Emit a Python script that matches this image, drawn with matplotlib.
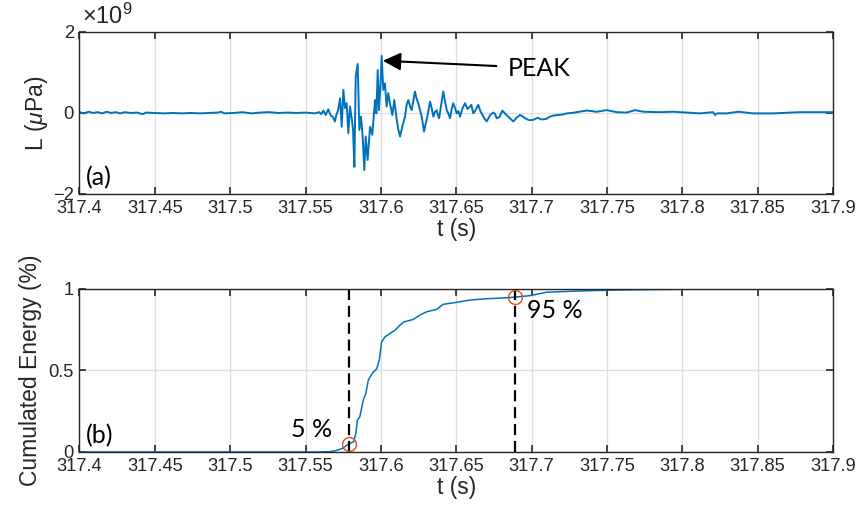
import numpy as np
import matplotlib
matplotlib.use('Agg')
import matplotlib.pyplot as plt

# hydrophone trace around the event (amplitude in units of 1e9 uPa)
t_sig = [317.400, 317.403, 317.406, 317.409, 317.412, 317.415, 317.418, 317.421,
         317.424, 317.427, 317.430, 317.434, 317.438, 317.442, 317.444, 317.450,
         317.456, 317.462, 317.468, 317.474, 317.480, 317.486, 317.492, 317.494,
         317.496, 317.502, 317.508, 317.514, 317.520, 317.526, 317.532, 317.538,
         317.544, 317.550, 317.5563, 317.5590, 317.5605, 317.5618, 317.5634, 317.5642,
         317.5651, 317.5660, 317.5669, 317.5682, 317.5695, 317.5704, 317.5713, 317.5720,
         317.5729, 317.5740, 317.5751, 317.5762, 317.5773, 317.5784, 317.5795, 317.5806,
         317.5815, 317.5824, 317.5833, 317.5846, 317.5857, 317.5868, 317.5879, 317.5890,
         317.5899, 317.5912, 317.5928, 317.5943, 317.5952, 317.5961, 317.5970, 317.5979,
         317.5987, 317.5999, 317.6005, 317.6016, 317.6027, 317.6038, 317.6049, 317.6060,
         317.6076, 317.6089, 317.6105, 317.6115, 317.6127, 317.6142, 317.6160, 317.6171,
         317.6182, 317.6195, 317.6204, 317.6215, 317.6226, 317.6237, 317.6248, 317.6271,
         317.6286, 317.6295, 317.6304, 317.6315, 317.6326, 317.6337, 317.6348, 317.6358,
         317.6370, 317.6378, 317.6386, 317.6400, 317.6414, 317.6425, 317.6437, 317.6448,
         317.6459, 317.6470, 317.6480, 317.6492, 317.6503, 317.6514, 317.6525, 317.6540,
         317.6558, 317.6575, 317.6591, 317.6600, 317.6613, 317.6625, 317.6635, 317.6646,
         317.6660, 317.6680, 317.6690, 317.6702, 317.6725, 317.6746, 317.6757, 317.6768,
         317.6787, 317.6806, 317.6825, 317.6845, 317.6862, 317.6879, 317.6900, 317.6923,
         317.6940, 317.6956, 317.6985, 317.7011, 317.7040, 317.7067, 317.7095, 317.7122,
         317.7150, 317.7177, 317.7205, 317.7233, 317.7266, 317.7299, 317.7366, 317.7432,
         317.7498, 317.7565, 317.7631, 317.7686, 317.7741, 317.7852, 317.7940, 317.8029,
         317.8118, 317.8205, 317.8217, 317.8230, 317.8295, 317.8372, 317.8471, 317.8604,
         317.8781, 317.8958, 317.9000]
L_sig = [0.02, -0.01, 0.03, 0.00, 0.02, -0.01, 0.03, 0.00,
         0.02, -0.01, 0.02, 0.00, 0.01, -0.03, 0.01, 0.00,
         -0.01, 0.00, -0.01, 0.00, -0.01, 0.00, 0.01, 0.03,
         -0.01, 0.00, 0.02, -0.01, 0.01, 0.02, 0.00, 0.01,
         0.00, 0.01, -0.01, 0.02, -0.03, 0.06, -0.05, 0.03,
         0.09, 0.00, -0.07, -0.10, -0.21, -0.05, 0.03, 0.15,
         0.36, -0.34, 0.57, 0.12, 0.24, -0.50, 0.16, -0.13,
         -0.40, -1.33, 0.90, 1.21, -0.42, -0.09, -0.58, -1.41,
         -0.58, -1.16, -0.34, -0.54, -0.10, 0.32, -0.01, 1.06,
         0.07, 0.81, 1.41, 0.57, 0.73, 0.16, 0.49, 0.24,
         -0.05, 0.32, -0.17, -0.40, -0.58, -0.34, -0.09, 0.20,
         0.32, 0.15, 0.07, 0.30, 0.53, 0.35, 0.24, -0.09,
         -0.46, -0.30, -0.17, 0.05, 0.28, 0.12, -0.09, 0.02,
         0.07, -0.05, -0.13, 0.20, 0.53, 0.30, 0.07, -0.02,
         -0.13, 0.10, 0.24, 0.12, -0.01, 0.05, -0.09, 0.10,
         0.24, 0.10, 0.16, 0.20, -0.01, 0.05, 0.12, 0.20,
         0.05, -0.09, -0.15, -0.21, -0.05, 0.01, -0.02, -0.13,
         -0.10, 0.06, -0.02, -0.09, -0.15, -0.21, -0.12, -0.05,
         -0.08, -0.13, -0.18, -0.17, -0.12, -0.16, -0.15, -0.09,
         -0.06, -0.05, -0.04, -0.01, 0.00, 0.02, 0.06, 0.03,
         0.07, 0.02, 0.01, 0.07, 0.03, 0.02, 0.03, 0.01,
         -0.01, 0.02, -0.05, -0.01, -0.01, 0.03, -0.01, -0.01,
         0.02, 0.02, 0.02]

# normalised cumulative energy of the trace
t_cum = [317.400, 317.500, 317.560, 317.566, 317.570, 317.574, 317.5788, 317.582,
         317.5835, 317.5844, 317.586, 317.5883, 317.590, 317.5916, 317.5935, 317.595,
         317.5972, 317.5989, 317.6005, 317.6027, 317.606, 317.6094, 317.6127, 317.6153,
         317.6215, 317.6259, 317.6304, 317.637, 317.6414, 317.6503, 317.6591, 317.6702,
         317.6835, 317.689, 317.6989, 317.710, 317.7321, 317.760, 317.800, 317.850,
         317.900]
E_cum = [0.0, 0.0, 0.0, 0.002, 0.008, 0.02, 0.05, 0.063,
         0.12, 0.196, 0.215, 0.317, 0.358, 0.44, 0.47, 0.49,
         0.51, 0.563, 0.675, 0.706, 0.727, 0.747, 0.778, 0.798,
         0.813, 0.840, 0.860, 0.875, 0.906, 0.918, 0.932, 0.940,
         0.946, 0.95, 0.959, 0.980, 0.988, 0.994, 0.998, 1.0,
         1.0]

t5, e5 = 317.5788, 0.05
t95, e95 = 317.689, 0.95
t_peak, L_peak = 317.6005, 1.41

xticks = [317.4, 317.45, 317.5, 317.55, 317.6, 317.65, 317.7, 317.75, 317.8, 317.85, 317.9]
xticklabels = ['317.4', '317.45', '317.5', '317.55', '317.6', '317.65',
               '317.7', '317.75', '317.8', '317.85', '317.9']

blue = '#0072BD'
orange = '#D95319'
dark = '#262626'
plt.rcParams['font.family'] = ['Liberation Sans', 'DejaVu Sans']
plt.rcParams['mathtext.fontset'] = 'custom'
plt.rcParams['mathtext.it'] = 'Liberation Sans:italic'
plt.rcParams['mathtext.rm'] = 'Liberation Sans'
note_font = ['Lato', 'DejaVu Sans']


def style_axes(ax):
    ax.set_xlim(317.4, 317.9)
    ax.set_xticks(xticks)
    ax.set_xticklabels(xticklabels)
    ax.grid(True, color='#dedede', linewidth=0.9)
    ax.set_axisbelow(True)
    ax.tick_params(direction='in', length=5, width=1.2, top=True, right=True,
                   labelsize=13.2, colors=dark, pad=4)
    for s in ax.spines.values():
        s.set_color(dark)
        s.set_linewidth(1.0)
    ax.set_xlabel('t (s)', fontsize=16.5, color=dark, labelpad=1)


fig = plt.figure(figsize=(8.65, 5.23), dpi=100)
ax1 = fig.add_axes([0.0919, 0.6291, 0.8711, 0.3098])
ax2 = fig.add_axes([0.0919, 0.1358, 0.8711, 0.3117])

# (a) raw signal
ax1.plot(t_sig, L_sig, color=blue, linewidth=1.4)
style_axes(ax1)
ax1.set_ylim(-2, 2)
ax1.set_yticks([-2, 0, 2])
ax1.set_ylabel(r'L ($\mu$Pa)', fontsize=16.5, color=dark, labelpad=2)
ax1.text(0.003, 1.02, r'$\times10^{9}$', transform=ax1.transAxes, fontsize=17,
         color=dark, ha='left', va='bottom')
ax1.text(0.008, 0.03, '(a)', transform=ax1.transAxes, fontsize=18,
         family=note_font, ha='left', va='bottom')
ax1.annotate('PEAK', xy=(t_peak + 0.0008, L_peak - 0.12),
             xytext=(317.684, L_peak - 0.30), fontsize=18, family=note_font,
             va='center', ha='left',
             arrowprops=dict(arrowstyle='-|>,head_length=0.6,head_width=0.3',
                             color='black', lw=1.5, shrinkA=6, shrinkB=0))

# (b) cumulative energy
ax2.plot(t_cum, E_cum, color=blue, linewidth=1.1)
style_axes(ax2)
ax2.set_ylim(0, 1)
ax2.set_yticks([0, 0.5, 1])
ax2.set_yticklabels(['0', '0.5', '1'])
ax2.set_ylabel('Cumulated Energy (%)', fontsize=16.5, color=dark, labelpad=5)
for tv in (t5, t95):
    ax2.axvline(tv, color='black', linewidth=1.6, dashes=(5, 2.6))
ax2.plot([t5, t95], [e5, e95], linestyle='none', marker='o', markersize=10,
         markerfacecolor='none', markeredgecolor=orange, markeredgewidth=1.0)
ax2.text(t5 - 0.011, e5 + 0.02, '5 %', fontsize=18, family=note_font,
         ha='right', va='bottom')
ax2.text(t95 + 0.008, e95 - 0.08, '95 %', fontsize=18, family=note_font,
         ha='left', va='center')
ax2.text(0.008, 0.03, '(b)', transform=ax2.transAxes, fontsize=18,
         family=note_font, ha='left', va='bottom')

plt.savefig('out.png', dpi=100)
